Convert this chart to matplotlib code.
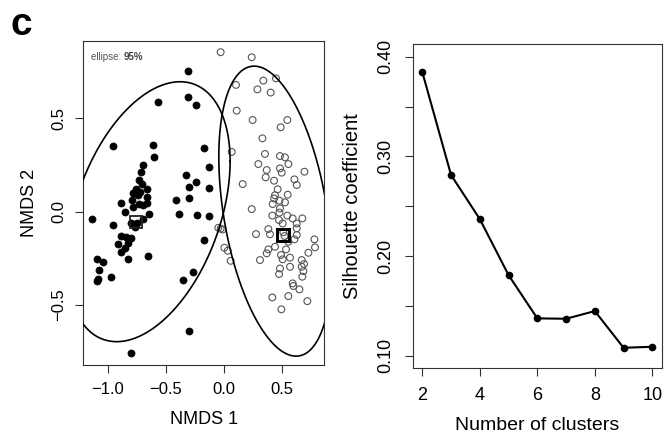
import numpy as np
import matplotlib
matplotlib.use("Agg")
import matplotlib.pyplot as plt
from matplotlib.transforms import offset_copy

plt.rcParams['font.family'] = ['Liberation Sans', 'DejaVu Sans']

# ---- NMDS data: cluster 1 (filled) ----
c1_x = [-0.312, -0.564, -0.307, -0.241, -0.957, -0.607, -0.172, -0.602, -0.699, -0.132,
        -0.713, -0.326, -0.728, -0.241, -0.659, -0.705, -0.301, -0.132, -0.756, -0.779,
        -0.736, -0.722, -0.415, -0.298, -0.888, -0.728, -0.659, -0.848, -0.785, -0.699,
        -0.642, -0.384, -0.235, -0.129, -1.132, -0.957, -0.799, -0.751, -0.765, -0.699,
        -0.882, -0.842, -0.799, -0.908, -0.825, -0.851, -0.885, -0.828, -0.650, -0.169,
        -1.089, -1.037, -1.077, -0.974, -1.095, -1.083, -0.264, -0.350, -0.298, -0.797,
        -0.794, -0.665]
c1_y = [0.754, 0.589, 0.616, 0.571, 0.350, 0.359, 0.343, 0.291, 0.250, 0.241,
        0.214, 0.195, 0.170, 0.161, 0.120, 0.148, 0.134, 0.129, 0.120, 0.098,
        0.089, 0.107, 0.063, 0.071, 0.048, 0.041, 0.048, 0.000, 0.023, 0.036,
        -0.013, -0.013, -0.018, -0.021, -0.039, -0.071, -0.063, -0.063, -0.080, -0.041,
        -0.129, -0.134, -0.143, -0.175, -0.170, -0.196, -0.218, -0.255, -0.236, -0.152,
        -0.254, -0.271, -0.314, -0.352, -0.371, -0.361, -0.323, -0.364, -0.639, -0.757,
        0.063, 0.077]

# ---- NMDS data: cluster 2 (open) ----
c2_x = [-0.029, 0.238, 0.103, 0.338, 0.447, 0.287, 0.401, 0.109, 0.246, 0.544,
        0.487, 0.330, 0.066, 0.352, 0.481, 0.524, 0.553, 0.295, 0.367, 0.481,
        0.496, 0.691, 0.358, 0.605, 0.430, 0.625, 0.160, 0.461, 0.438, 0.547,
        0.430, 0.476, 0.524, 0.418, 0.238, 0.481, 0.476, 0.415, 0.544, 0.590,
        0.673, 0.473, 0.504, 0.625, 0.381, 0.275, 0.395, 0.625, 0.625, 0.605,
        0.777, 0.553, 0.438, 0.381, 0.533, 0.782, 0.725, 0.367, 0.490, 0.504,
        0.567, 0.309, 0.668, 0.688, 0.668, 0.481, 0.567, 0.682, 0.473, 0.673,
        0.590, 0.596, 0.648, 0.415, 0.553, 0.716, 0.493, -0.049, -0.011, 0.003,
        0.032, 0.057, -0.029, 0.510, 0.520]
c2_y = [0.854, 0.827, 0.679, 0.702, 0.714, 0.655, 0.638, 0.541, 0.491, 0.491,
        0.452, 0.393, 0.320, 0.309, 0.298, 0.291, 0.255, 0.255, 0.223, 0.232,
        0.209, 0.214, 0.184, 0.173, 0.166, 0.143, 0.148, 0.120, 0.088, 0.091,
        0.071, 0.059, 0.050, 0.041, 0.014, 0.018, -0.005, -0.021, -0.021, -0.036,
        -0.036, -0.045, -0.063, -0.063, -0.093, -0.120, -0.121, -0.089, -0.125, -0.148,
        -0.148, -0.161, -0.188, -0.202, -0.202, -0.191, -0.220, -0.223, -0.232, -0.255,
        -0.246, -0.259, -0.259, -0.280, -0.295, -0.304, -0.295, -0.318, -0.334, -0.348,
        -0.384, -0.398, -0.416, -0.459, -0.452, -0.479, -0.523, -0.086, -0.095, -0.193,
        -0.209, -0.263, -0.091, -0.110, -0.130]

# medoids
medoid_x = [-0.756, 0.510]
medoid_y = [-0.054, -0.125]

# 95% ellipses: center (cx, cy) and shape matrix [[a, b], [b, d]]
ell_cx = [-0.650, 0.439]
ell_cy = [0.000, 0.003]
ell_a = [0.4935, 0.234]
ell_b = [0.1897, -0.140]
ell_d = [0.4844, 0.603]

# ---- Silhouette data ----
n_clusters = [2, 3, 4, 5, 6, 7, 8, 9, 10]
silhouette = [0.3846, 0.2813, 0.2371, 0.1809, 0.1375, 0.1371, 0.1448, 0.1080, 0.1090]

fig = plt.figure(figsize=(6.65, 4.41), dpi=100)

# ---------- left panel ----------
ax1 = fig.add_axes([0.1253, 0.1723, 0.3624, 0.7347])
ax1.scatter(c2_x, c2_y, s=24, facecolors='none', edgecolors='#555555', linewidths=0.8, zorder=2)
ax1.scatter(c1_x, c1_y, s=26, facecolors='black', edgecolors='black', linewidths=0.5, zorder=3)
ax1.plot(medoid_x[0], medoid_y[0], marker='s', ms=9, mfc='none', mec='#222222', mew=1.3, zorder=4)
ax1.plot(medoid_x[1], medoid_y[1], marker='s', ms=8.5, mfc='none', mec='black', mew=2.2, zorder=4)

t = np.linspace(0, 2 * np.pi, 400)
for cx, cy, a, b, d in zip(ell_cx, ell_cy, ell_a, ell_b, ell_d):
    M = np.array([[a, b], [b, d]])
    L = np.linalg.cholesky(M)
    pts = L @ np.vstack([np.cos(t), np.sin(t)])
    ax1.plot(cx + pts[0], cy + pts[1], color='black', lw=1.2, zorder=5)

ax1.set_xlim(-1.209, 0.862)
ax1.set_ylim(-0.821, 0.914)
ax1.set_xticks([-1.0, -0.5, 0.0, 0.5])
ax1.set_xticklabels(['\u22121.0', '\u22120.5', '0.0', '0.5'])
ax1.set_yticks([-0.5, 0.0, 0.5])
ax1.set_yticklabels(['\u22120.5', '0.0', '0.5'], rotation=90, va='center')
ax1.set_xlabel('NMDS 1', fontsize=13, labelpad=10)
ax1.set_ylabel('NMDS 2', fontsize=13, labelpad=10)
t1 = ax1.text(0.03, 0.965, 'ellipse: ', transform=ax1.transAxes, fontsize=7, color='#555555',
              ha='left', va='top')
fig.canvas.draw()
w = t1.get_window_extent().width
ax1.text(0.03, 0.965, '95%', fontsize=7, color='#444444', ha='left', va='top', fontweight='bold',
         transform=offset_copy(ax1.transAxes, fig=fig, x=w, y=0, units='dots'))

# ---------- right panel ----------
ax2 = fig.add_axes([0.6215, 0.1662, 0.3735, 0.7333])
ax2.plot(n_clusters, silhouette, color='black', lw=1.5, marker='o', ms=4.5)
ax2.set_xlim(1.687, 10.325)
ax2.set_ylim(0.088, 0.4124)
ax2.set_xticks([2, 4, 6, 8, 10])
ax2.set_yticks([0.10, 0.15, 0.20, 0.25, 0.30, 0.35, 0.40])
ax2.set_yticklabels(['0.10', '', '0.20', '', '0.30', '', '0.40'], rotation=90, va='center')
ax2.set_xlabel('Number of clusters', fontsize=14, labelpad=9)
ax2.set_ylabel('Silhouette coefficient', fontsize=14.5, labelpad=11)

for ax in (ax1, ax2):
    ax.tick_params(direction='out', length=6, width=0.8, labelsize=12, color='#333333', pad=6)
    for sp in ax.spines.values():
        sp.set_linewidth(0.8)
        sp.set_color('#333333')
ax2.tick_params(labelsize=13, pad=8)

fig.text(0.016, 0.921, 'c', fontsize=28, fontweight='bold', ha='left', va='baseline')

fig.savefig('out.png', dpi=100)
